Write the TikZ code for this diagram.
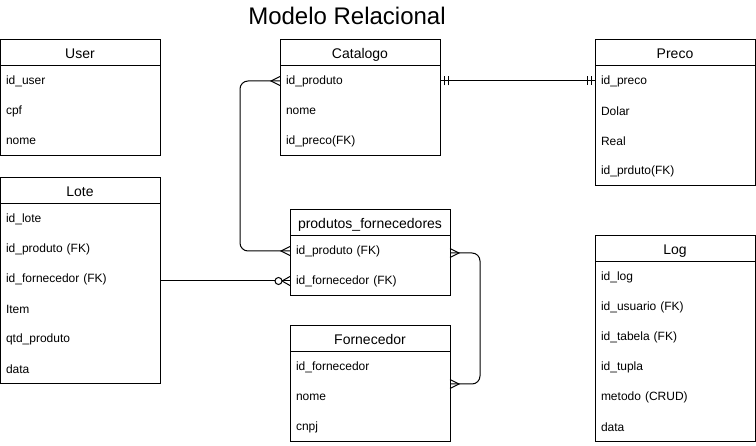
\documentclass[tikz,border=0pt]{standalone}
\usepackage{fontspec}
\setmainfont{Liberation Sans}
\usetikzlibrary{positioning}

% crow's foot ends
\pgfarrowsdeclare{ermany}{ermany}{\pgfarrowsleftextend{-9pt}\pgfarrowsrightextend{0pt}}{
  \pgfsetdash{}{0pt}\pgfsetmiterjoin
  \pgfpathmoveto{\pgfqpoint{0pt}{4.5pt}}
  \pgfpathlineto{\pgfqpoint{-9pt}{0pt}}
  \pgfpathlineto{\pgfqpoint{0pt}{-4.5pt}}
  \pgfusepathqstroke}
\pgfarrowsdeclare{ermandone}{ermandone}{\pgfarrowsleftextend{-9pt}\pgfarrowsrightextend{0pt}}{
  \pgfsetdash{}{0pt}
  \pgfpathmoveto{\pgfqpoint{-4pt}{4.5pt}}
  \pgfpathlineto{\pgfqpoint{-4pt}{-4.5pt}}
  \pgfpathmoveto{\pgfqpoint{-8pt}{4.5pt}}
  \pgfpathlineto{\pgfqpoint{-8pt}{-4.5pt}}
  \pgfusepathqstroke}
\pgfarrowsdeclare{erzeromany}{erzeromany}{\pgfarrowsleftextend{-15pt}\pgfarrowsrightextend{0pt}}{
  \pgfsetdash{}{0pt}\pgfsetmiterjoin
  \pgfpathmoveto{\pgfqpoint{0pt}{4.5pt}}
  \pgfpathlineto{\pgfqpoint{-8pt}{0pt}}
  \pgfpathlineto{\pgfqpoint{0pt}{-4.5pt}}
  \pgfusepathqstroke
  \pgfpathcircle{\pgfqpoint{-11.5pt}{0pt}}{3.5pt}
  \pgfsetfillcolor{white}
  \pgfusepathqfillstroke}

\begin{document}
\begin{tikzpicture}[x=1pt, y=-1pt,
    tblhead/.style={rectangle, draw=black, line width=1pt, minimum width=160pt, minimum height=26pt, inner sep=0pt, outer sep=0pt, text height=12.5pt, text depth=1.5pt, font=\fontsize{14}{16}\selectfont},
    tblrow/.style={rectangle, minimum width=160pt, text width=148pt, minimum height=30pt, inner xsep=6pt, inner ysep=0pt, outer sep=0pt, align=left, font=\fontsize{12}{14}\selectfont},
    tblbox/.style={draw=black, line width=1pt},
    rel/.style={draw=black, line width=1pt, rounded corners=8pt}
]
    \useasboundingbox (0,0) rectangle (756,446);

    \node[font=\fontsize{24}{28}\selectfont] (title) at (347,16) {Modelo Relacional};

    % User
    \node[tblhead] (userh) at (80,53) {User};
    \node[tblrow, below=0pt of userh] (user1) {id\_user};
    \node[tblrow, below=0pt of user1] (user2) {cpf};
    \node[tblrow, below=0pt of user2] (user3) {nome};
    \draw[tblbox] (userh.south west) rectangle (user3.south east);

    % Catalogo
    \node[tblhead] (cath) at (360,53) {Catalogo};
    \node[tblrow, below=0pt of cath] (cat1) {id\_produto};
    \node[tblrow, below=0pt of cat1] (cat2) {nome};
    \node[tblrow, below=0pt of cat2] (cat3) {id\_preco(FK)};
    \draw[tblbox] (cath.south west) rectangle (cat3.south east);

    % Preco
    \node[tblhead] (preh) at (675,53) {Preco};
    \node[tblrow, below=0pt of preh] (pre1) {id\_preco};
    \node[tblrow, below=0pt of pre1] (pre2) {Dolar};
    \node[tblrow, below=0pt of pre2] (pre3) {Real};
    \node[tblrow, below=0pt of pre3] (pre4) {id\_prduto(FK)};
    \draw[tblbox] (preh.south west) rectangle (pre4.south east);

    % Lote
    \node[tblhead] (loteh) at (80,191) {Lote};
    \node[tblrow, below=0pt of loteh] (lote1) {id\_lote};
    \node[tblrow, below=0pt of lote1] (lote2) {id\_produto (FK)};
    \node[tblrow, below=0pt of lote2] (lote3) {id\_fornecedor (FK)};
    \node[tblrow, below=0pt of lote3] (lote4) {Item};
    \node[tblrow, below=0pt of lote4] (lote5) {qtd\_produto};
    \node[tblrow, below=0pt of lote5] (lote6) {data};
    \draw[tblbox] (loteh.south west) rectangle (lote6.south east);

    % produtos_fornecedores
    \node[tblhead] (pfh) at (370,223) {produtos\_fornecedores};
    \node[tblrow, below=0pt of pfh] (pf1) {id\_produto (FK)};
    \node[tblrow, below=0pt of pf1] (pf2) {id\_fornecedor (FK)};
    \draw[tblbox] (pfh.south west) rectangle (pf2.south east);

    % Log
    \node[tblhead] (logh) at (675,249) {Log};
    \node[tblrow, below=0pt of logh] (log1) {id\_log};
    \node[tblrow, below=0pt of log1] (log2) {id\_usuario (FK)};
    \node[tblrow, below=0pt of log2] (log3) {id\_tabela (FK)};
    \node[tblrow, below=0pt of log3] (log4) {id\_tupla};
    \node[tblrow, below=0pt of log4] (log5) {metodo (CRUD)};
    \node[tblrow, below=0pt of log5] (log6) {data};
    \draw[tblbox] (logh.south west) rectangle (log6.south east);

    % Fornecedor
    \node[tblhead] (fornh) at (370,339) {Fornecedor};
    \node[tblrow, below=0pt of fornh] (forn1) {id\_fornecedor};
    \node[tblrow, below=0pt of forn1] (forn2) {nome};
    \node[tblrow, below=0pt of forn2] (forn3) {cnpj};
    \draw[tblbox] (fornh.south west) rectangle (forn3.south east);

    % relations
    \draw[rel, ermany-ermany] (cat1.west) -- ++(-40,0) |- (pf1.west);
    \draw[rel, ermandone-ermandone] (cat1.east) -- (pre1.west);
    \draw[rel, erzeromany-] (pf2.west) -- (pf2.west -| lote3.east);
    \draw[rel, ermany-ermany] ([yshift=-2pt]pf1.east) -- ++(30,0) |- ([yshift=-2pt]forn1.south east);
\end{tikzpicture}
\end{document}
